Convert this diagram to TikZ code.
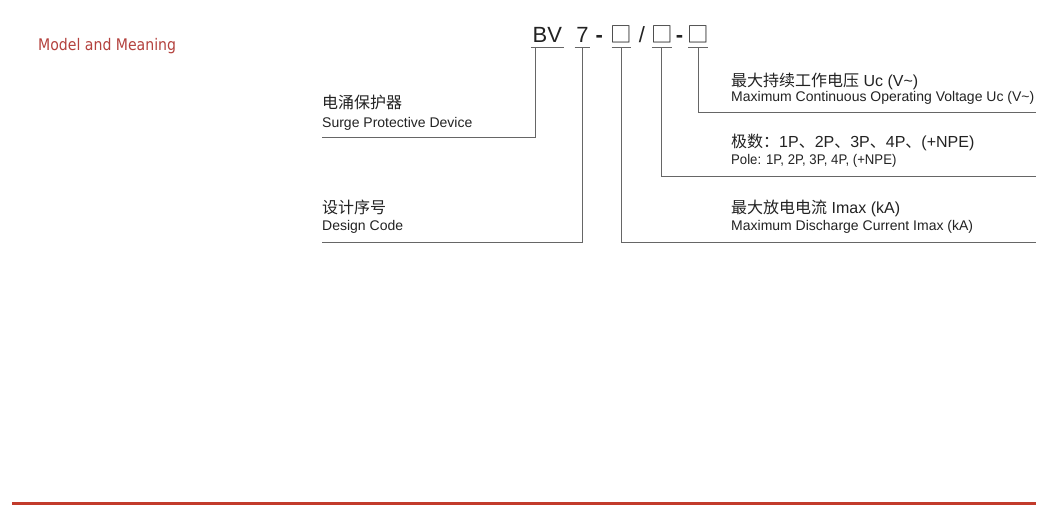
\documentclass[tikz,border=0pt]{standalone}
\usepackage{fontspec}
\setmainfont{Liberation Sans}
\newfontfamily\cjk{Noto Sans CJK SC}
\newfontfamily\ttlfont[FakeStretch=0.88]{DejaVu Sans}
\newfontfamily\nrwfont[FakeStretch=0.94]{Liberation Sans}
\usetikzlibrary{positioning}
\definecolor{txt}{HTML}{222222}
\definecolor{lnc}{HTML}{666666}
\definecolor{ttlred}{HTML}{B3413D}
\definecolor{barred}{HTML}{C23B2B}
\tikzset{
  code/.style={anchor=base, inner xsep=1.5pt, inner ysep=0pt, text height=15pt, text depth=4.5pt, font=\fontsize{22}{26}\selectfont, text=txt},
  sq/.style  ={code, inner xsep=-1pt, font=\fontsize{21.5}{26}\cjk},
  cn/.style  ={anchor=base west, inner sep=0pt, font=\fontsize{16}{19}\selectfont, text=txt},
  en/.style  ={anchor=base west, inner sep=0pt, font=\fontsize{14}{17}\selectfont, text=txt},
  ttl/.style ={anchor=base west, inner sep=0pt, font=\fontsize{16}{19}\ttlfont, text=ttlred},
  ln/.style  ={draw=lnc, line width=0.9pt},
  bar/.style ={draw=barred, line width=3pt},
}
\begin{document}
\begin{tikzpicture}[x=1pt, y=-1pt]
  \useasboundingbox (0,0) rectangle (1053,513);
  \node[ttl] (title) at (38,51) {Model and Meaning};
  % model code
  \node[code] (bv) at (547.3,43) {BV};
  \node[code] (n7) at (582.5,43) {7};
  \node[code] (h1) at (599.3,43) {\bfseries -};
  \node[sq]   (s1) at (621.5,43) {□};
  \node[code] (sl) at (642,43) {/};
  \node[sq]   (s2) at (661.8,43) {□};
  \node[code] (h2) at (679.5,43) {\bfseries -};
  \node[sq]   (s3) at (698,43) {□};
  % line ends
  \coordinate (spdend) at (322,137);
  \coordinate (dcend) at (322,242);
  \coordinate (ucend) at (1036,112.7);
  \coordinate (polend) at (1036,176);
  \coordinate (imend) at (1036,242);
  % labels
  \node[cn] (spdcn) at (322,109) {{\cjk 电涌保护器}};
  \node[en] (spden) at (322,127.3) {Surge Protective Device};
  \node[cn] (dccn) at (322,214) {{\cjk 设计序号}};
  \node[en] (dcen) at (322,231) {Design Code};
  \node[cn] (uccn) at (731,86.5) {{\cjk 最大持续工作电压} Uc (V\textasciitilde)};
  \node[en] (ucen) at (731,101.7) {Maximum Continuous Operating Voltage Uc (V\textasciitilde)};
  \node[cn] (polcn) at (731,148) {{\cjk 极数：}1P{\cjk 、}2P{\cjk 、}3P{\cjk 、}4P{\cjk 、}(+NPE)};
  \node[en] (polen) at (731,165) {{\nrwfont Pole: 1P, 2P, 3P, 4P, (+NPE)}};
  \node[cn] (imcn) at (731,214) {{\cjk 最大放电电流} Imax (kA)};
  \node[en] (imen) at (731,231) {Maximum Discharge Current Imax (kA)};
  % underlines and leaders
  \foreach \c in {bv,n7,s1,s2,s3}
    \draw[ln] (\c.south west) -- (\c.south east);
  \draw[ln] ([xshift=-11.5pt]bv.south) |- (spdend);
  \draw[ln] (n7.south) |- (dcend);
  \draw[ln] (s1.south) |- (imend);
  \draw[ln] (s2.south) |- (polend);
  \draw[ln] (s3.south) |- (ucend);
  \draw[bar] (12,503) -- (1036,503);
\end{tikzpicture}
\end{document}
